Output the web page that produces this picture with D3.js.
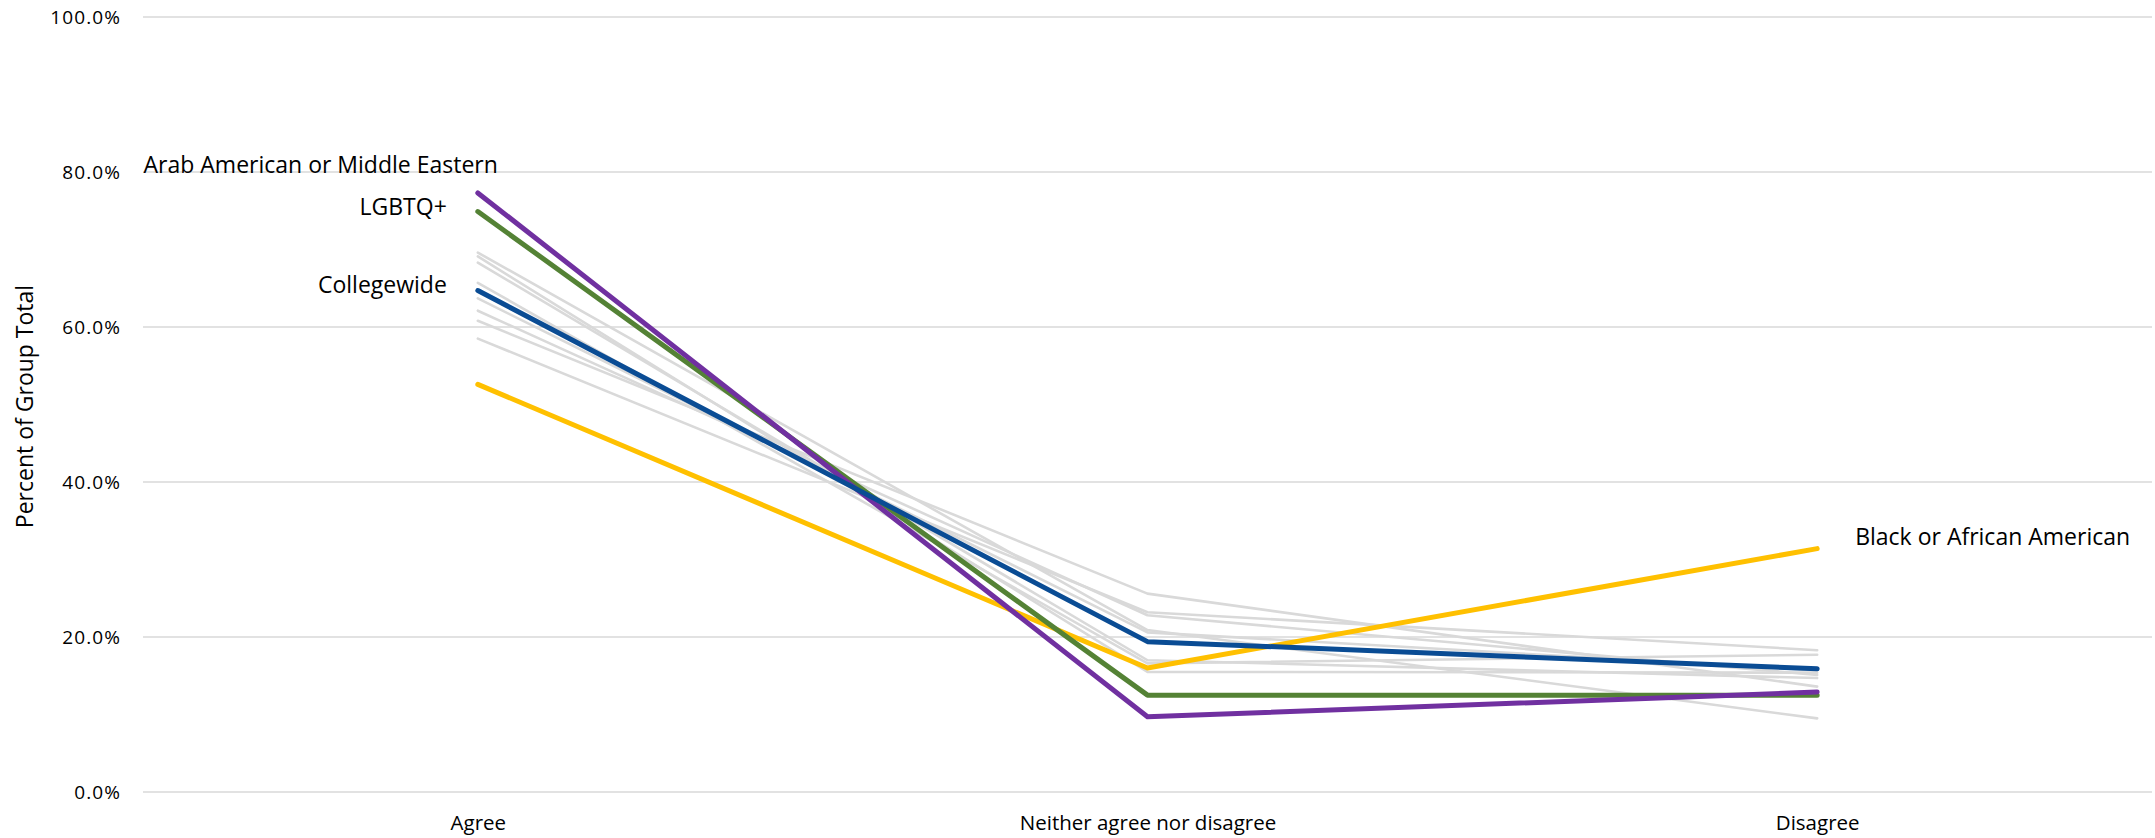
<!DOCTYPE html>
<html>
<head>
<meta charset="utf-8">
<script src="https://cdn.jsdelivr.net/npm/d3@7"></script>
<style>
  html, body { margin: 0; padding: 0; background: #fff; }
  svg { display: block; }
  text { font-family: "Open Sans", "Liberation Sans", sans-serif; fill: #000; }
</style>
</head>
<body>
<svg id="chart" width="2155" height="838"></svg>
<script>
// Response categories along the x axis
const categories = ["Agree", "Neither agree nor disagree", "Disagree"];

// Y axis ticks (percent)
const yTicks = [0, 20, 40, 60, 80, 100];

// Background groups (grey), percent per category
const otherGroups = [
  [69.6, 20.9, 9.5],
  [69.1, 15.5, 15.4],
  [68.3, 17.0, 14.7],
  [65.7, 16.6, 17.7],
  [63.7, 20.6, 15.7],
  [62.1, 22.8, 15.1],
  [60.8, 25.6, 13.6],
  [58.5, 23.2, 18.3]
];

// Highlighted groups
const blackAfricanAmerican = [52.6, 16.0, 31.4];
const lgbtq = [74.9, 12.5, 12.5];
const arabMiddleEastern = [77.3, 9.7, 12.9];
const collegewide = [64.7, 19.4, 15.9];

const width = 2155, height = 838;
const margin = { top: 17, right: 3, bottom: 46, left: 143 };

const svg = d3.select("#chart");

const x = d3.scalePoint()
  .domain(categories)
  .range([margin.left, width - margin.right])
  .padding(0.5);

const y = d3.scaleLinear()
  .domain([0, 100])
  .range([height - margin.bottom, margin.top]);

// Horizontal gridlines
svg.append("g")
  .selectAll("line")
  .data(yTicks)
  .join("line")
  .attr("x1", margin.left)
  .attr("x2", width - margin.right)
  .attr("y1", d => y(d))
  .attr("y2", d => y(d))
  .attr("stroke", "#d9d9d9")
  .attr("stroke-width", 1.5);

// Y axis tick labels
const yAxis = d3.axisLeft(y)
  .tickValues(yTicks)
  .tickFormat(d => d3.format(".1f")(d) + "%")
  .tickSize(0)
  .tickPadding(22);

svg.append("g")
  .attr("transform", `translate(${margin.left},0)`)
  .call(yAxis)
  .call(g => g.select(".domain").remove())
  .call(g => g.selectAll("text")
    .style("font-family", '"Open Sans", sans-serif')
    .style("font-size", "19px")
    .style("letter-spacing", "1.1px")
    .attr("fill", "#404040"));

// X axis category labels
const xAxis = d3.axisBottom(x).tickSize(0).tickPadding(23);
svg.append("g")
  .attr("transform", `translate(0,${y(0)})`)
  .call(xAxis)
  .call(g => g.select(".domain").remove())
  .call(g => g.selectAll("text")
    .style("font-family", '"Open Sans", sans-serif')
    .style("font-size", "20.5px")
    .attr("fill", "#404040"));

// Y axis title
svg.append("text")
  .attr("transform", `translate(27,${(y(0) + y(100)) / 2 + 2}) rotate(-90)`)
  .attr("text-anchor", "middle")
  .attr("dominant-baseline", "middle")
  .style("font-family", '"Open Sans", sans-serif')
  .style("font-size", "23px")
  .attr("fill", "#404040")
  .text("Percent of Group Total");

const line = d3.line()
  .x((d, i) => x(categories[i]))
  .y(d => y(d));

// Grey background groups
svg.append("g")
  .selectAll("path")
  .data(otherGroups)
  .join("path")
  .attr("d", line)
  .attr("fill", "none")
  .attr("stroke", "#d9d9d9")
  .attr("stroke-width", 2.6)
  .attr("stroke-linecap", "round")
  .attr("stroke-linejoin", "round");

// Highlighted groups
const highlighted = [
  { name: "Black or African American", values: blackAfricanAmerican, color: "#ffc000" },
  { name: "LGBTQ+", values: lgbtq, color: "#548235" },
  { name: "Arab American or Middle Eastern", values: arabMiddleEastern, color: "#7030a0" },
  { name: "Collegewide", values: collegewide, color: "#0a4c94" }
];

svg.append("g")
  .selectAll("path")
  .data(highlighted)
  .join("path")
  .attr("d", d => line(d.values))
  .attr("fill", "none")
  .attr("stroke", d => d.color)
  .attr("stroke-width", 5)
  .attr("stroke-linecap", "round")
  .attr("stroke-linejoin", "round");

// Series labels placed next to their end points
const labelSpec = [
  { series: highlighted[2], idx: 0, dx: 20, dy: -20, anchor: "end" },
  { series: highlighted[1], idx: 0, dx: -31, dy: 3, anchor: "end" },
  { series: highlighted[3], idx: 0, dx: -31, dy: 2, anchor: "end" },
  { series: highlighted[0], idx: 2, dx: 38, dy: -4, anchor: "start" }
];

svg.append("g")
  .selectAll("text")
  .data(labelSpec)
  .join("text")
  .attr("x", d => x(categories[d.idx]) + d.dx)
  .attr("y", d => y(d.series.values[d.idx]) + d.dy)
  .attr("text-anchor", d => d.anchor)
  .style("font-size", "23px")
  .text(d => d.series.name);
</script>
</body>
</html>
